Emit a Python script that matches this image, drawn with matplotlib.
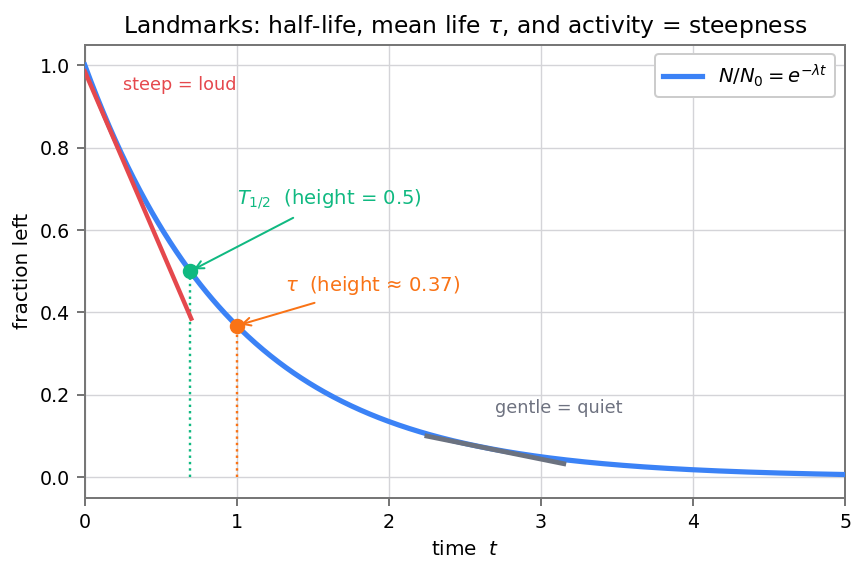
import numpy as np
import matplotlib
matplotlib.use("Agg")
import matplotlib.pyplot as plt

# data
lam = 1.0
t_half = np.log(2) / lam
tau = 1.0 / lam
x_limits = [0, 5]
y_limits = [-0.05, 1.05]
steep_x = [0.0, 0.70]
steep_y = [0.985, 0.385]
gentle_x = [2.25, 3.15]
gentle_y = [0.100, 0.033]
xticks = [0, 1, 2, 3, 4, 5]
yticks = [0.0, 0.2, 0.4, 0.6, 0.8, 1.0]

BLUE = "#3b82f6"
RED = "#e5484d"
GREEN = "#10b981"
ORANGE = "#f97316"
GRAY = "#6b7280"

plt.rcParams['font.family'] = ['DejaVu Sans']
fig, ax = plt.subplots(figsize=(865/144, 571/144), dpi=144)
fig.subplots_adjust(left=0.098, right=0.977, top=0.922, bottom=0.128)

t = np.linspace(0, 5, 500)
ax.plot(t, np.exp(-lam * t), color=BLUE, lw=2.6, label=r"$N/N_0=e^{-\lambda t}$", zorder=3)
ax.plot(steep_x, steep_y, color=RED, lw=2.2, zorder=4)
ax.plot(gentle_x, gentle_y, color=GRAY, lw=2.4, zorder=4)

y_half = np.exp(-lam * t_half)
y_tau = np.exp(-lam * tau)
ax.plot([t_half, t_half], [0, y_half], color=GREEN, lw=1.2, ls=":", zorder=2)
ax.plot([tau, tau], [0, y_tau], color=ORANGE, lw=1.2, ls=":", zorder=2)
ax.scatter([t_half], [y_half], color=GREEN, s=45, zorder=5)
ax.scatter([tau], [y_tau], color=ORANGE, s=45, zorder=5)

ax.annotate(r"$T_{1/2}$  (height = 0.5)", xy=(t_half, y_half), xytext=(1.0, 0.675),
            color=GREEN, fontsize=9.8, va="center", ha="left",
            arrowprops=dict(arrowstyle="->", color=GREEN, lw=1.0, shrinkA=3, shrinkB=2))
ax.annotate(r"$\tau$  (height ≈ 0.37)", xy=(tau, y_tau), xytext=(1.32, 0.465),
            color=ORANGE, fontsize=9.8, va="center", ha="left",
            arrowprops=dict(arrowstyle="->", color=ORANGE, lw=1.0, shrinkA=3, shrinkB=2))

ax.text(0.25, 0.952, "steep = loud", color=RED, fontsize=8.8, va="center", ha="left")
ax.text(2.70, 0.168, "gentle = quiet", color="#6e7280", fontsize=8.8, va="center", ha="left")

ax.set_xlim(*x_limits)
ax.set_ylim(*y_limits)
ax.set_xticks(xticks)
ax.set_yticks(yticks)
ax.set_xticklabels([str(v) for v in xticks])
ax.set_yticklabels([f"{v:.1f}" for v in yticks])
ax.tick_params(labelsize=9.5, color="#555555", length=4)
ax.grid(True, color="#d4d4d8", lw=0.7)
ax.set_axisbelow(True)
for s in ax.spines.values():
    s.set_color("#777777")
    s.set_linewidth(1.0)

ax.set_xlabel(r"time  $t$", fontsize=10)
ax.set_ylabel("fraction left", fontsize=10)
ax.set_title(r"Landmarks: half-life, mean life $\tau$, and activity = steepness", fontsize=11.7)
ax.legend(loc="upper right", fontsize=9.8, framealpha=1.0, edgecolor="#cccccc")

fig.savefig("out.png", dpi=144)
